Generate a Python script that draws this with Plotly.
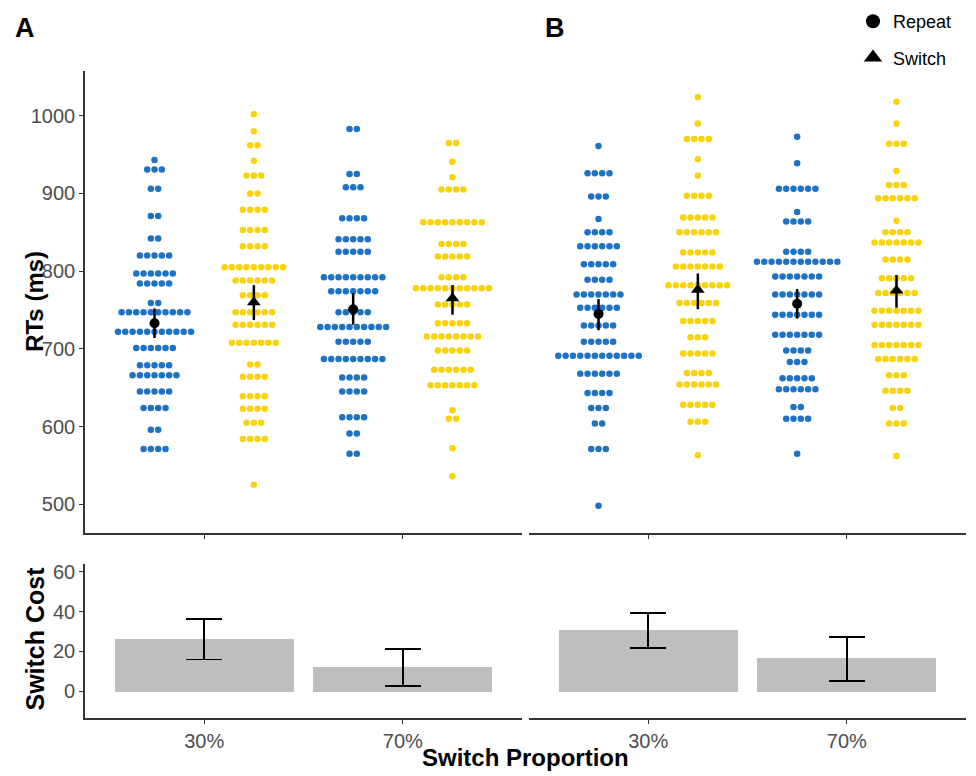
import plotly.graph_objects as go

# ---------------- DATA ----------------
categories = ["30%", "70%"]
conditions = ["Repeat", "Switch"]

# Dot-plot rows: RT value (ms) of each row and number of participants in it
A_rep30_rt = [943, 931, 906, 871, 842, 820, 797, 784, 759, 747, 722, 701, 679, 666, 645, 624, 596, 571]
A_rep30_n = [1, 3, 2, 2, 2, 5, 6, 5, 2, 10, 11, 6, 5, 7, 5, 4, 2, 4]
A_sw30_rt = [1002, 980, 962, 942, 923, 900, 879, 853, 832, 805, 788, 769, 747, 731, 708, 680, 664, 639, 623, 605, 584, 525]
A_sw30_n = [1, 1, 2, 1, 3, 2, 4, 4, 4, 9, 6, 4, 6, 6, 7, 2, 4, 4, 4, 3, 4, 1]
A_rep70_rt = [983, 925, 908, 868, 841, 825, 792, 774, 747, 728, 709, 687, 663, 645, 612, 591, 565]
A_rep70_n = [2, 2, 3, 4, 5, 5, 9, 7, 5, 10, 5, 9, 4, 4, 4, 2, 2]
A_sw70_rt = [965, 941, 921, 905, 863, 835, 819, 792, 778, 757, 733, 716, 698, 673, 653, 621, 610, 572, 536]
A_sw70_n = [2, 1, 1, 4, 9, 4, 5, 4, 11, 5, 5, 8, 5, 6, 7, 1, 2, 1, 1]

B_rep30_rt = [961, 926, 896, 867, 850, 832, 809, 789, 770, 753, 730, 709, 691, 668, 643, 624, 604, 571, 498]
B_rep30_n = [1, 4, 3, 1, 4, 6, 5, 4, 7, 6, 5, 5, 12, 6, 4, 3, 2, 3, 1]
B_sw30_rt = [1024, 990, 970, 944, 923, 897, 869, 850, 824, 806, 782, 759, 736, 715, 694, 669, 654, 628, 606, 563]
B_sw30_n = [1, 1, 4, 1, 1, 4, 5, 6, 5, 7, 9, 6, 5, 3, 5, 4, 6, 5, 3, 1]
B_rep70_rt = [973, 939, 906, 876, 864, 825, 812, 793, 770, 744, 718, 698, 683, 662, 648, 625, 610, 565]
B_rep70_n = [1, 1, 6, 1, 4, 4, 12, 7, 7, 7, 7, 4, 3, 5, 6, 2, 4, 1]
B_sw70_rt = [1018, 990, 964, 929, 911, 894, 865, 850, 837, 815, 791, 772, 749, 731, 705, 687, 666, 646, 624, 604, 562]
B_sw70_n = [1, 1, 3, 1, 3, 6, 1, 4, 7, 4, 5, 6, 7, 7, 7, 6, 3, 4, 2, 3, 1]

# Condition means with error bar limits (ms)  [30%, 70%]
A_rep_mean = [733, 751]; A_rep_lo = [714, 731]; A_rep_hi = [752, 772]
A_sw_mean = [760, 765];  A_sw_lo = [737, 744];  A_sw_hi = [782, 782]
B_rep_mean = [745, 758]; B_rep_lo = [724, 739]; B_rep_hi = [764, 777]
B_sw_mean = [776, 775];  B_sw_lo = [751, 753];  B_sw_hi = [797, 795]

# Switch cost (ms) with error bar limits  [30%, 70%]
A_cost = [26.3, 12.2]; A_cost_lo = [16.0, 2.7]; A_cost_hi = [36.3, 21.3]
B_cost = [30.8, 16.7]; B_cost_lo = [21.7, 5.2]; B_cost_hi = [39.3, 27.2]

rt_ticks = [500, 600, 700, 800, 900, 1000]
cost_ticks = [0, 20, 40, 60]

# ---------------- STYLE ----------------
W, H = 976, 776
BLUE = "#1E72C4"
YELLOW = "#FAD20A"
AX = "#333333"
TICKC = "#4D4D4D"
FONT = "Liberation Sans, Arial, sans-serif"
DODGE = {"Repeat": -0.25, "Switch": 0.25}
DOT_STEP = 0.0368


def fx(p):
    return p / W


def fy(p):
    return 1 - p / H


panels = {
    "A": {
        "dots": {("Repeat", 0): (A_rep30_rt, A_rep30_n), ("Switch", 0): (A_sw30_rt, A_sw30_n),
                 ("Repeat", 1): (A_rep70_rt, A_rep70_n), ("Switch", 1): (A_sw70_rt, A_sw70_n)},
        "means": {"Repeat": (A_rep_mean, A_rep_lo, A_rep_hi), "Switch": (A_sw_mean, A_sw_lo, A_sw_hi)},
        "cost": (A_cost, A_cost_lo, A_cost_hi),
        "top": ("x", "y"), "bot": ("x3", "y3"),
    },
    "B": {
        "dots": {("Repeat", 0): (B_rep30_rt, B_rep30_n), ("Switch", 0): (B_sw30_rt, B_sw30_n),
                 ("Repeat", 1): (B_rep70_rt, B_rep70_n), ("Switch", 1): (B_sw70_rt, B_sw70_n)},
        "means": {"Repeat": (B_rep_mean, B_rep_lo, B_rep_hi), "Switch": (B_sw_mean, B_sw_lo, B_sw_hi)},
        "cost": (B_cost, B_cost_lo, B_cost_hi),
        "top": ("x2", "y2"), "bot": ("x4", "y4"),
    },
}

fig = go.Figure()

for pname, p in panels.items():
    xa, ya = p["top"]
    # dots
    for (cond, ci), (rts, ns) in p["dots"].items():
        xs, ys = [], []
        centre = ci + 1 + DODGE[cond]
        for v, n in zip(rts, ns):
            for i in range(n):
                xs.append(centre + (i - (n - 1) / 2) * DOT_STEP)
                ys.append(v)
        fig.add_trace(go.Scatter(
            x=xs, y=ys, mode="markers", xaxis=xa, yaxis=ya, showlegend=False,
            marker=dict(size=6.5, color=BLUE if cond == "Repeat" else YELLOW, line=dict(width=0)),
            hoverinfo="skip"))
    # means
    for cond in conditions:
        m, lo, hi = p["means"][cond]
        fig.add_trace(go.Scatter(
            x=[i + 1 + DODGE[cond] for i in range(len(categories))], y=m,
            mode="markers", xaxis=xa, yaxis=ya, name=cond, legendgroup=cond,
            showlegend=False,
            marker=dict(symbol="circle" if cond == "Repeat" else "triangle-up",
                        size=10 if cond == "Repeat" else 12, color="black"),
            error_y=dict(type="data", symmetric=False,
                         array=[h - v for h, v in zip(hi, m)],
                         arrayminus=[v - l for v, l in zip(m, lo)],
                         color="black", thickness=2.5, width=0)))
    # switch cost bars
    xb, yb = p["bot"]
    c, lo, hi = p["cost"]
    fig.add_trace(go.Bar(
        x=[1, 2], y=c, width=0.9, xaxis=xb, yaxis=yb, showlegend=False,
        marker=dict(color="#BEBEBE", line=dict(width=0)),
        error_y=dict(type="data", symmetric=False,
                     array=[h - v for h, v in zip(hi, c)],
                     arrayminus=[v - l for v, l in zip(c, lo)],
                     color="black", thickness=1.6, width=18)))

# legend-only keys (larger symbols, as in the reference legend)
for cond in conditions:
    fig.add_trace(go.Scatter(
        x=[None], y=[None], mode="markers", name=cond, legendgroup=cond,
        marker=dict(symbol="circle" if cond == "Repeat" else "triangle-up",
                    size=14 if cond == "Repeat" else 17, color="black")))

domA = [fx(85), fx(522)]
domB = [fx(529), fx(966)]
domTop = [fy(532), fy(68)]
domBot = [fy(718), fy(563)]

common_x = dict(range=[0.4, 2.6], tickvals=[1, 2], showgrid=False, zeroline=False,
                showline=True, linecolor=AX, linewidth=1.6, ticks="outside", ticklen=4,
                tickcolor=AX, tickwidth=1.2, fixedrange=True)
common_y = dict(showgrid=False, zeroline=False, showline=True, linecolor=AX, linewidth=1.6,
                ticks="outside", ticklen=4, tickcolor=AX, tickwidth=1.2,
                tickfont=dict(size=20, color=TICKC, family=FONT), fixedrange=True)

fig.update_layout(
    width=W, height=H,
    margin=dict(l=0, r=0, t=0, b=0),
    paper_bgcolor="white", plot_bgcolor="white",
    font=dict(family=FONT, color="black"),
    xaxis=dict(domain=domA, anchor="y", showticklabels=False, **common_x),
    xaxis2=dict(domain=domB, anchor="y2", showticklabels=False, **common_x),
    xaxis3=dict(domain=domA, anchor="y3", ticktext=categories,
                tickfont=dict(size=20, color=TICKC, family=FONT), **common_x),
    xaxis4=dict(domain=domB, anchor="y4", ticktext=categories,
                tickfont=dict(size=20, color=TICKC, family=FONT), **common_x),
    yaxis=dict(domain=domTop, anchor="x", range=[463, 1058], tickvals=rt_ticks, **common_y),
    yaxis2=dict(domain=domTop, anchor="x2", range=[463, 1058], visible=False, fixedrange=True),
    yaxis3=dict(domain=domBot, anchor="x3", range=[-13.5, 64], tickvals=cost_ticks, **common_y),
    yaxis4=dict(domain=domBot, anchor="x4", range=[-13.5, 64], visible=False, fixedrange=True),
    legend=dict(x=fx(853), y=1.0, xanchor="left", yanchor="top",
                font=dict(size=18, family=FONT, color="black"),
                bgcolor="rgba(0,0,0,0)", traceorder="grouped", tracegroupgap=10),
    bargap=0,
)

ann = [
    dict(text="<b>A</b>", x=fx(25), y=fy(25), font=dict(size=27)),
    dict(text="<b>B</b>", x=fx(555), y=fy(25), font=dict(size=27)),
    dict(text="<b>RTs (ms)</b>", x=fx(35), y=fy(300), textangle=-90, font=dict(size=24)),
    dict(text="<b>Switch Cost</b>", x=fx(35), y=fy(638), textangle=-90, font=dict(size=25)),
    dict(text="<b>Switch Proportion</b>", x=fx(525), y=fy(757), font=dict(size=24)),
]
for a in ann:
    a.update(xref="paper", yref="paper", showarrow=False, xanchor="center", yanchor="middle")
    a["font"].update(family=FONT, color="black")
fig.update_layout(annotations=ann)

fig.write_html("out.html", config={"displayModeBar": False},
               post_script="document.body.style.margin='0px';document.body.style.overflow='hidden';")
